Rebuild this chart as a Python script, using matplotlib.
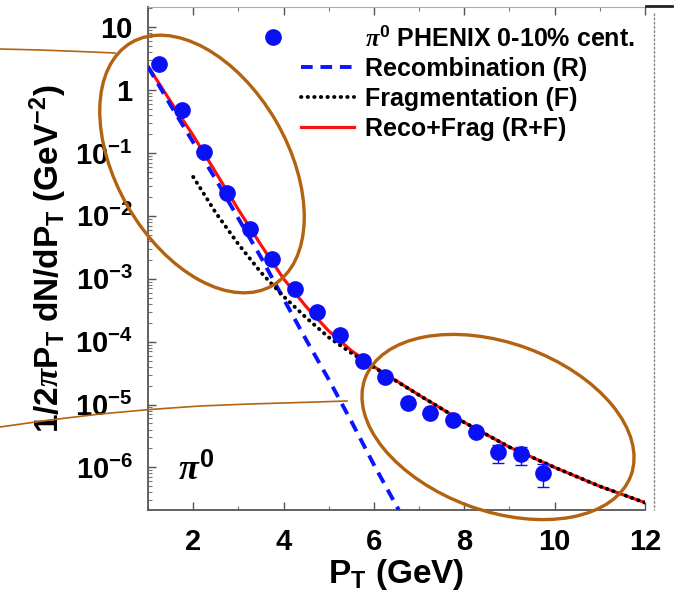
import numpy as np
import matplotlib
matplotlib.use("Agg")
import matplotlib.pyplot as plt
from matplotlib.patches import Ellipse
from matplotlib.lines import Line2D
from matplotlib.legend_handler import HandlerLine2D
from matplotlib.ticker import FixedLocator, FixedFormatter, LogLocator, NullFormatter, MultipleLocator

plt.rcParams['font.family'] = ['Liberation Sans', 'DejaVu Sans']
plt.rcParams['font.weight'] = 'bold'
plt.rcParams['mathtext.fontset'] = 'custom'
plt.rcParams['mathtext.rm'] = 'Liberation Sans:bold'
plt.rcParams['mathtext.bf'] = 'Liberation Sans:bold'
plt.rcParams['mathtext.it'] = 'Liberation Serif:italic'

# --- data ---
# PHENIX pi0, 0-10% central
data_pt = [1.25, 1.75, 2.25, 2.75, 3.25, 3.75, 4.25, 4.75, 5.25,
           5.75, 6.25, 6.75, 7.25, 7.75, 8.25, 8.75, 9.25, 9.75]
data_y = [2.6, 0.48, 0.104, 0.023, 6.2e-3, 2.1e-3, 6.9e-4, 3.0e-4, 1.29e-4,
          5.0e-5, 2.7e-5, 1.07e-5, 7.4e-6, 5.7e-6, 3.7e-6, 1.73e-6, 1.61e-6, 8.0e-7]
data_err = [0, 0, 0, 0, 0, 0, 0, 0, 0,
            0, 0, 0, 0, 0, 0.3e-6, 0.55e-6, 0.5e-6, 0.32e-6]

# recombination (R)
reco_pt = [1.0, 1.5, 2.0, 2.5, 3.0, 3.5, 4.0, 4.5, 5.0, 5.5, 6.0, 6.55]
reco_y = [2.35, 0.575, 0.148, 0.038, 9.1e-3, 2.19e-3, 4.8e-4, 1.07e-4,
          2.5e-5, 5.4e-6, 1.1e-6, 2.1e-7]

# fragmentation (F)
frag_pt = [2.0, 2.5, 3.0, 3.5, 4.0, 4.5, 5.0, 5.5, 6.0, 7.0, 8.0, 9.0, 10.0, 11.0, 12.0]
frag_y = [0.0417, 0.0112, 3.55e-3, 1.26e-3, 5.25e-4, 2.4e-4, 1.17e-4, 6.6e-5,
          3.9e-5, 1.41e-5, 5.2e-6, 2.1e-6, 1.0e-6, 5.0e-7, 2.75e-7]

# sum (R+F)
sum_pt = [1.0, 1.5, 2.0, 2.5, 3.0, 3.5, 4.0, 4.5, 5.0, 5.5, 6.0,
          7.0, 8.0, 9.0, 10.0, 11.0, 12.0]
sum_y = [2.4, 0.66, 0.19, 0.049, 0.0126, 3.45e-3, 1.0e-3, 3.6e-4, 1.48e-4,
         7.2e-5, 4.0e-5, 1.41e-5, 5.2e-6, 2.1e-6, 1.0e-6, 5.0e-7, 2.75e-7]

y_ticks = [1e-6, 1e-5, 1e-4, 1e-3, 1e-2, 1e-1, 1, 10]
y_tick_labels = [r'$\mathbf{10^{-6}}$', r'$\mathbf{10^{-5}}$', r'$\mathbf{10^{-4}}$',
                 r'$\mathbf{10^{-3}}$', r'$\mathbf{10^{-2}}$', r'$\mathbf{10^{-1}}$',
                 '1', '10']
x_ticks = [2, 4, 6, 8, 10, 12]

# hand-drawn brown annotations (pixel coords of the 682x598 image)
ell1 = dict(xy=(202, 164), width=281, height=171, angle=59.8)
ell2 = dict(xy=(498, 427), width=283, height=168, angle=20)
line1_x = [0, 40, 80, 115]
line1_y = [49, 50, 51.5, 53]
line2_x = [0, 50, 100, 150, 200, 250, 300, 347]
line2_y = [427, 420, 414, 409.5, 406, 404, 402.5, 401]
BROWN = '#b3620f'

fig = plt.figure(figsize=(6.82, 5.98), dpi=100)
ax = fig.add_axes([148 / 682, 88 / 598, 497 / 682, 503 / 598])

ax.plot(reco_pt, reco_y, color='#0a14ff', lw=2.8, ls=(0, (3, 2)),
        label='Recombination (R)', zorder=3)
ax.plot(sum_pt, sum_y, color='#ff1010', lw=2.3, label='Reco+Frag (R+F)', zorder=2)
ax.plot(frag_pt, frag_y, color='black', lw=2.8, ls=(0, (0.1, 1.6)),
        dash_capstyle='round', label='Fragmentation (F)', zorder=4)
eb = ax.errorbar(data_pt, data_y, yerr=data_err, fmt='o', color='#0a10f5', ms=11,
                 elinewidth=1.0, capsize=4, capthick=1.0, zorder=5)

ax.set_yscale('log')
ax.set_xlim(1, 12)
ax.set_ylim(2.1e-7, 21)

ax.yaxis.set_major_locator(FixedLocator(y_ticks))
ax.yaxis.set_major_formatter(FixedFormatter(y_tick_labels))
ax.yaxis.set_minor_locator(LogLocator(base=10, subs=np.arange(2, 10), numticks=20))
ax.yaxis.set_minor_formatter(NullFormatter())
ax.xaxis.set_major_locator(FixedLocator(x_ticks))
ax.xaxis.set_minor_locator(MultipleLocator(1))

ax.tick_params(axis='both', which='major', direction='in', labelsize=21, pad=11,
               length=6, width=1, color='#555555', top=True)
ax.tick_params(axis='both', which='minor', direction='in', length=3, width=0.8,
               color='#777777', top=True)
ax.tick_params(axis='x', which='major', pad=13)

for side in ['left', 'bottom']:
    ax.spines[side].set_color('#555555')
    ax.spines[side].set_linewidth(1.3)
ax.spines['top'].set_color('#aaaaaa')
ax.spines['right'].set_visible(False)

ax.set_xlabel(r'$\mathbf{P_T}$ (GeV)', fontsize=24, fontweight='bold', labelpad=1)
ax.set_ylabel(r'$\mathbf{1/2}\pi\mathbf{P_T\ dN/dP_T\ (GeV^{-2})}$', fontsize=24,
              fontweight='bold', labelpad=4)

ax.text(0.06, 0.06, r'$\pi^{\mathbf{0}}$', transform=ax.transAxes, fontsize=26)

handles, labels = ax.get_legend_handles_labels()
leg_handles = [eb[0], handles[0], handles[2], handles[1]]
leg_labels = [r'$\pi^{\mathbf{0}}$ PHENIX 0-10% cent.', labels[0], labels[2], labels[1]]
leg = ax.legend(leg_handles, leg_labels, loc='upper right', bbox_to_anchor=(1.0, 0.982),
                frameon=False, fontsize=18, handlelength=2.1, handletextpad=0.45,
                labelspacing=0.24, borderaxespad=0.1, borderpad=0.3,
                handler_map={eb[0]: HandlerLine2D(numpoints=1, xpad=-4.4)})
for t in leg.get_texts():
    t.set_fontweight('bold')

# overlay in image pixels for the brown marks and the edge artefacts
over = fig.add_axes([0, 0, 1, 1], zorder=10)
over.set_xlim(0, 682)
over.set_ylim(598, 0)
over.axis('off')
over.patch.set_alpha(0)
over.add_patch(Ellipse(fill=False, edgecolor=BROWN, lw=2.4, **ell1))
over.add_patch(Ellipse(fill=False, edgecolor=BROWN, lw=2.4, **ell2))
over.plot(line1_x, line1_y, color=BROWN, lw=1.2)
over.plot(line2_x, line2_y, color=BROWN, lw=1.2)
over.add_line(Line2D([654, 654], [13, 510], color='#888888', lw=1.0, ls=(0, (2, 1))))
over.add_line(Line2D([646, 672], [6, 6], color='#222222', lw=2.0))

fig.savefig('out.png', dpi=100)
